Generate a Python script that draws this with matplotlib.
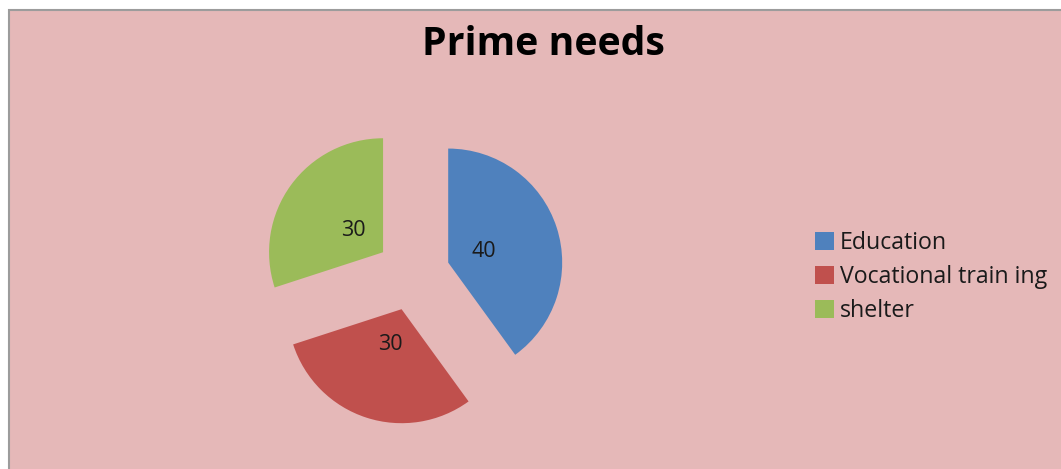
import matplotlib
matplotlib.use("Agg")
import matplotlib.pyplot as plt
from matplotlib.patches import Rectangle

# Chart data
categories = ["Education", "Vocational train ing", "shelter"]
values = [40, 30, 30]
colors = ["#4F81BD", "#C0504D", "#9BBB59"]
title = "Prime needs"

W, H = 1061, 469
plt.rcParams["font.family"] = ["Open Sans", "DejaVu Sans"]

fig = plt.figure(figsize=(W / 100, H / 100), dpi=100, facecolor="white")

# Chart area background with a thin grey frame
fig.patches.append(Rectangle((9 / W, -0.01), 1.0, (H - 10) / H + 0.01,
                             transform=fig.transFigure, facecolor="#E5B8B8",
                             edgecolor="#9C9C9C", linewidth=1.5, zorder=-5))

# Axes in pixel units (y measured from the bottom)
ax = fig.add_axes([0, 0, 1, 1])
ax.set_facecolor("none")
ax.set_zorder(2)

total = sum(values)
wedges, _, autotexts = ax.pie(
    values,
    colors=colors,
    explode=[37] * len(values),   # offsets are in data (pixel) units
    startangle=90,
    counterclock=False,
    center=(413, H - 274),
    radius=114,
    autopct=lambda p: f"{p * total / 100:.0f}",
    pctdistance=0.325,
    textprops=dict(fontsize=15.5, color="#1a1a1a"),
    wedgeprops=dict(linewidth=0),
)
ax.set_xlim(0, W)
ax.set_ylim(0, H)
ax.set_aspect("equal")
ax.axis("off")

fig.text(543.5 / W, (H - 55) / H, title, ha="center", va="baseline",
         fontsize=28.3, fontweight="bold", color="black")

ax.legend(wedges, categories, loc="upper left",
          bbox_to_anchor=(815 / W, (H - 231) / H), bbox_transform=fig.transFigure,
          frameon=False, fontsize=16.7, borderpad=0, borderaxespad=0,
          handlelength=0.8, handleheight=0.8, handletextpad=0.26,
          labelspacing=0.43, labelcolor="#1a1a1a")

fig.savefig("out.png", dpi=100, facecolor="white")
